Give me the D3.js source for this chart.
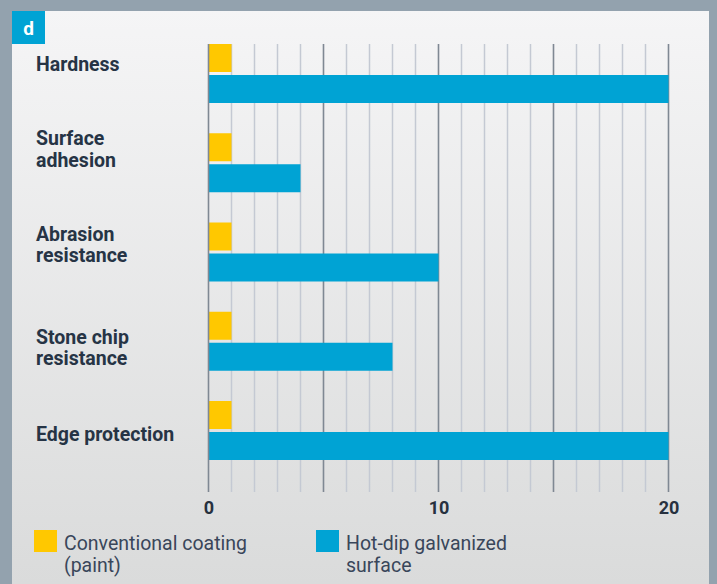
<!DOCTYPE html>
<html><head><meta charset="utf-8">
<script src="https://cdn.jsdelivr.net/npm/d3@7"></script>
<style>
html,body{margin:0;padding:0;background:#93a2ae;}
svg{display:block;}
</style></head>
<body>
<svg id="chart" width="717" height="584"></svg>
<script>
// ---- data ----
const categories = ["Hardness", "Surface adhesion", "Abrasion resistance", "Stone chip resistance", "Edge protection"];
const categoryLines = [["Hardness"], ["Surface", "adhesion"], ["Abrasion", "resistance"], ["Stone chip", "resistance"], ["Edge protection"]];
const seriesNames = ["Conventional coating (paint)", "Hot-dip galvanized surface"];
const legendLines = [["Conventional coating", "(paint)"], ["Hot-dip galvanized", "surface"]];
const conventional = [1, 1, 1, 1, 1];
const galvanized = [20, 4, 10, 8, 20];
const tickLabels = [0, 10, 20];
const panelLetter = "d";

// ---- layout ----
const W = 717, H = 584;
const colors = ["#ffc800", "#00a3d4"];
const labelNudge = [27, 12, 18, 32, 40]; // baseline offset from band top

const svg = d3.select("#chart");
const defs = svg.append("defs");
const grad = defs.append("linearGradient").attr("id", "bg").attr("x1", 0).attr("y1", 0).attr("x2", 0).attr("y2", 1);
grad.append("stop").attr("offset", "0%").attr("stop-color", "#f5f5f6");
grad.append("stop").attr("offset", "100%").attr("stop-color", "#dadbdb");

svg.append("rect").attr("x", 0).attr("y", 0).attr("width", W).attr("height", H).attr("fill", "#93a2ae");
svg.append("rect").attr("x", 12).attr("y", 11).attr("width", 697).attr("height", H - 11).attr("fill", "url(#bg)");

// badge
svg.append("rect").attr("x", 12).attr("y", 11).attr("width", 33).attr("height", 33).attr("fill", "#00a3d4");
svg.append("text").attr("x", 28.5).attr("y", 35).attr("text-anchor", "middle")
  .attr("font-family", "Roboto, sans-serif").attr("font-weight", 700).attr("font-size", 19)
  .attr("fill", "#fff").text(panelLetter);

const x = d3.scaleLinear().domain([0, 20]).range([208.5, 668.5]);
const step = 89.25, band = 59;
const y = d3.scaleBand().domain(categories).range([44, 44 + 4 * step + band])
  .paddingInner((step - band) / step).paddingOuter(0);
const ySub = d3.scaleBand().domain(seriesNames).range([0, y.bandwidth()]).paddingInner(3 / 31).paddingOuter(0);

const gridTop = 44, gridBottom = 492;

// grid
const gridG = svg.append("g");
gridG.selectAll("line").data(d3.range(1, 21)).join("line")
  .attr("x1", d => x(d)).attr("x2", d => x(d))
  .attr("y1", gridTop).attr("y2", gridBottom)
  .attr("stroke", d => d % 5 === 0 ? "#7f8893" : "#c4c9d3")
  .attr("stroke-width", d => d % 5 === 0 ? 1.6 : 1.5);

// bars
const data = categories.map((c, i) => ({ c, vals: [conventional[i], galvanized[i]] }));
const groups = svg.append("g").selectAll("g").data(data).join("g")
  .attr("transform", d => `translate(0,${y(d.c)})`);
groups.selectAll("rect").data(d => d.vals.map((v, k) => ({ v, k }))).join("rect")
  .attr("x", x(0)).attr("y", d => ySub(seriesNames[d.k]))
  .attr("width", d => x(d.v) - x(0)).attr("height", ySub.bandwidth())
  .attr("fill", d => colors[d.k]);

// zero line
svg.append("line").attr("x1", x(0)).attr("x2", x(0)).attr("y1", gridTop).attr("y2", gridBottom)
  .attr("stroke", "#7f8893").attr("stroke-width", 1.6);

// x axis tick labels
const axis = d3.axisBottom(x).tickValues(tickLabels).tickSize(0).tickPadding(0).tickFormat(d3.format("d"));
const axG = svg.append("g").attr("transform", `translate(0,${500})`).call(axis);
axG.select(".domain").remove();
axG.selectAll("text").attr("font-family", "Roboto, sans-serif").attr("font-weight", 700)
  .attr("font-size", 18).attr("fill", "#27313f").attr("dy", "0.75em");

// category labels
const lab = svg.append("g").selectAll("text").data(categories).join("text")
  .attr("x", 36).attr("y", (d, i) => y(d) + labelNudge[i])
  .attr("font-family", "Roboto, sans-serif").attr("font-weight", 700).attr("font-size", 19.5)
  .attr("fill", "#263445");
lab.each(function (d, i) {
  d3.select(this).selectAll("tspan").data(categoryLines[i]).join("tspan")
    .attr("x", 36).attr("dy", (t, j) => j === 0 ? 0 : 21.5).text(t => t);
});

// legend
const legX = [34, 316];
const leg = svg.append("g").selectAll("g").data(seriesNames).join("g")
  .attr("transform", (d, i) => `translate(${legX[i]},530)`);
leg.append("rect").attr("width", 23).attr("height", 22).attr("fill", (d, i) => colors[i]);
leg.append("text").attr("x", 30).attr("y", 20)
  .attr("font-family", "Roboto, sans-serif").attr("font-size", 19.5).attr("fill", "#39465a")
  .each(function (d, i) {
    d3.select(this).selectAll("tspan").data(legendLines[i]).join("tspan")
      .attr("x", 30).attr("dy", (t, j) => j === 0 ? 0 : 21.5).text(t => t);
  });
</script>
</body></html>
